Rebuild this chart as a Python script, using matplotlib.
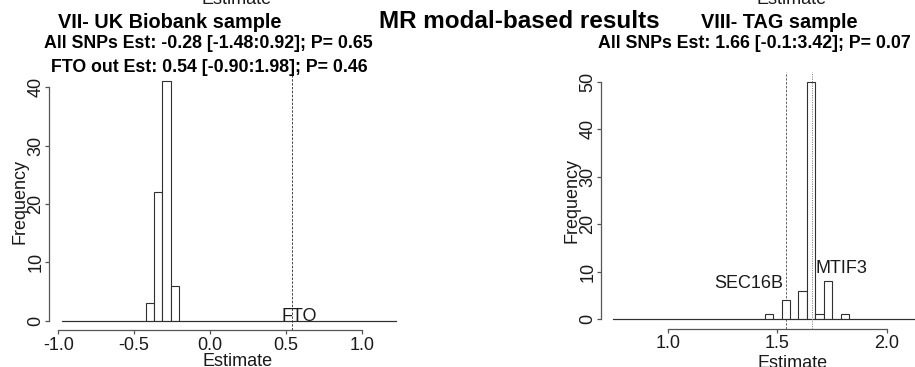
import numpy as np
import matplotlib
matplotlib.use("Agg")
import matplotlib.pyplot as plt

plt.rcParams['font.family'] = ['Liberation Sans', 'DejaVu Sans']

W, H = 915, 367

# ---- VII- UK Biobank sample: histogram of modal-based estimates ----
ukb_start = -0.975
ukb_width = 0.055
ukb_counts = [0, 0, 0, 0, 0, 0, 0, 0, 0, 0,
              3, 22, 41, 6, 0, 0, 0, 0, 0, 0,
              0, 0, 0, 0, 0, 0, 0, 0, 0, 0,
              0, 0, 0, 0, 0, 0, 0, 0, 0, 0]
ukb_fto_out_est = 0.54
ukb_xticks = [-1.0, -0.5, 0.0, 0.5, 1.0]
ukb_yticks = [0, 10, 20, 30, 40]

# ---- VIII- TAG sample ----
tag_start = 0.75
tag_width = 0.0385
tag_counts = [0, 0, 0, 0, 0, 0, 0, 0, 0, 0,
              0, 0, 0, 0, 0, 0, 0, 0, 1, 0,
              4, 0, 6, 50, 1, 8, 0, 1, 0, 0,
              0, 0, 0, 0, 0, 0, 0, 0]
tag_all_est = 1.66
tag_sec16b_est = 1.54
tag_xticks = [1.0, 1.5, 2.0]
tag_yticks = [0, 10, 20, 30, 40, 50]

FS = 13
BAR_EC = '#303030'
AX_C = '#555555'
TXT_C = '#1a1a1a'


def fx(px):
    return px / W


def fy(py):
    return 1 - py / H


def make_axes(left, right, top, bottom):
    return fig.add_axes([fx(left), fy(bottom), fx(right) - fx(left), fy(top) - fy(bottom)])


def style_axes(ax, xticks, yticks):
    ax.set_facecolor('none')
    for s in ('top', 'right'):
        ax.spines[s].set_visible(False)
    for s in ('left', 'bottom'):
        ax.spines[s].set_color(AX_C)
        ax.spines[s].set_linewidth(0.9)
    ax.spines['bottom'].set_bounds(xticks[0], xticks[-1])
    ax.spines['left'].set_bounds(yticks[0], yticks[-1])
    ax.set_xticks(xticks)
    ax.set_xticklabels([f"{v:.1f}" for v in xticks])
    ax.set_yticks(yticks)
    ax.set_yticklabels([str(v) for v in yticks], rotation=90, va='center')
    ax.tick_params(axis='both', direction='out', length=2.9, width=0.9,
                   color=AX_C, labelsize=FS, labelcolor=TXT_C)
    ax.tick_params(axis='x', pad=1.8)
    ax.tick_params(axis='y', pad=0.3)


def draw_hist(ax, start, width, counts):
    edges = start + width * np.arange(len(counts))
    ax.bar(edges, counts, width=width, align='edge', facecolor='white',
           edgecolor=BAR_EC, linewidth=0.8, zorder=2)
    ax.plot([edges[0], edges[-1] + width], [0, 0], color=BAR_EC, lw=0.8, zorder=2)


fig = plt.figure(figsize=(W / 100, H / 100), dpi=100)

# Left panel
axL = make_axes(48.7, 409.2, 71.7, 330.3)
axL.set_xlim(-1.063, 1.313)
axL.set_ylim(-1.64, 42.64)
draw_hist(axL, ukb_start, ukb_width, ukb_counts)
axL.axvline(ukb_fto_out_est, color='#444444', lw=0.7, ls=(0, (2.5, 1.5)), zorder=1)
axL.text(0.587, 0.8, "FTO", ha='center', va='center', fontsize=FS, color=TXT_C, zorder=3)
style_axes(axL, ukb_xticks, ukb_yticks)

# Right panel
axR = make_axes(601, 945.8, 72.2, 328.5)
axR.set_xlim(0.695, 2.27)
axR.set_ylim(-2, 52)
draw_hist(axR, tag_start, tag_width, tag_counts)
axR.axvline(tag_sec16b_est, color='#666666', lw=0.7, ls=(0, (2.5, 1.5)), zorder=1)
axR.axvline(tag_all_est, color='#888888', lw=0.7, ls=(0, (1.2, 1.2)), zorder=3)
axR.text(1.525, 7.5, "SEC16B", ha='right', va='center', fontsize=FS, color=TXT_C)
axR.text(1.673, 10.7, "MTIF3", ha='left', va='center', fontsize=FS, color=TXT_C)
style_axes(axR, tag_xticks, tag_yticks)

# Axis titles
fig.text(fx(19.5), fy(201.5), "Frequency", rotation=90, ha='center', va='center',
         fontsize=FS, color=TXT_C)
fig.text(fx(572.5), fy(200.5), "Frequency", rotation=90, ha='center', va='center',
         fontsize=FS, color=TXT_C)
fig.text(fx(237.5), fy(365.5), "Estimate", ha='center', va='baseline', fontsize=FS, color=TXT_C)
fig.text(fx(792.7), fy(368), "Estimate", ha='center', va='baseline', fontsize=FS, color=TXT_C)
# x-axis titles of the row above, cut by the top edge
fig.text(fx(236.7), fy(3.5), "Estimate", ha='center', va='baseline', fontsize=FS, color=TXT_C)
fig.text(fx(791.7), fy(3.5), "Estimate", ha='center', va='baseline', fontsize=FS, color=TXT_C)

# Titles
fig.text(fx(170), fy(27.5), "VII- UK Biobank sample", ha='center', va='baseline',
         fontsize=14.3, fontweight='bold')
fig.text(fx(208), fy(48), "All SNPs Est: -0.28 [-1.48:0.92]; P= 0.65", ha='center',
         va='baseline', fontsize=12.8, fontweight='bold')
fig.text(fx(209), fy(71.5), "FTO out Est: 0.54 [-0.90:1.98]; P= 0.46", ha='center',
         va='baseline', fontsize=12.8, fontweight='bold')
fig.text(fx(519), fy(28.5), "MR modal-based results", ha='center', va='baseline',
         fontsize=17.5, fontweight='bold')
fig.text(fx(779), fy(28), "VIII- TAG sample", ha='center', va='baseline',
         fontsize=14.3, fontweight='bold')
fig.text(fx(754), fy(48.5), "All SNPs Est: 1.66 [-0.1:3.42]; P= 0.07", ha='center',
         va='baseline', fontsize=12.8, fontweight='bold')

fig.savefig("out.png", dpi=100, facecolor='white')
